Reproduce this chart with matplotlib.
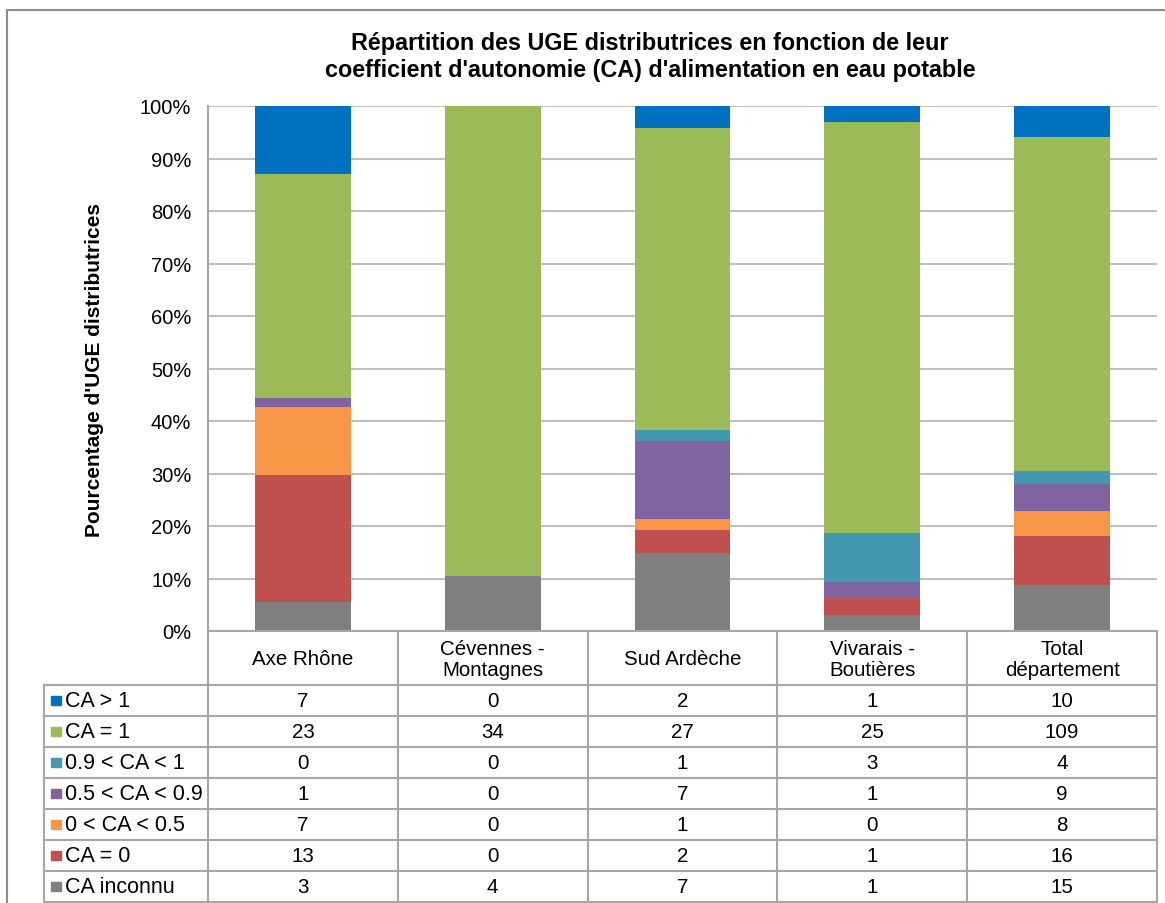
import numpy as np
import matplotlib.pyplot as plt
from matplotlib.patches import Rectangle

plt.rcParams['font.family'] = ['Liberation Sans', 'DejaVu Sans']

# Données
regions = ['Axe Rhône', 'Cévennes -\nMontagnes', 'Sud Ardèche', 'Vivarais -\nBoutières', 'Total\ndépartement']
classes = ['CA > 1', 'CA = 1', '0.9 < CA < 1', '0.5 < CA < 0.9', '0 < CA < 0.5', 'CA = 0', 'CA inconnu']
couleurs = ['#0070C0', '#9BBB59', '#4198AF', '#8064A2', '#F79646', '#C0504D', '#7F7F7F']

ca_sup1    = [7, 0, 2, 1, 10]
ca_egal1   = [23, 34, 27, 25, 109]
ca_09_1    = [0, 0, 1, 3, 4]
ca_05_09   = [1, 0, 7, 1, 9]
ca_0_05    = [7, 0, 1, 0, 8]
ca_egal0   = [13, 0, 2, 1, 16]
ca_inconnu = [3, 4, 7, 1, 15]

series = [ca_sup1, ca_egal1, ca_09_1, ca_05_09, ca_0_05, ca_egal0, ca_inconnu]
counts = np.array(series, dtype=float)
pct = counts / counts.sum(axis=0) * 100

W, H = 1165, 904
fig = plt.figure(figsize=(W / 100, H / 100), dpi=100)

# cadre extérieur
fig.patches.append(Rectangle((7 / W, 1 - 1200 / H), 2000 / W, (1200 - 11) / H,
                             transform=fig.transFigure, fill=False,
                             edgecolor='#8C8C8C', linewidth=1.5))

# ── Zone graphique ──
x0, x1, ytop, ybot = 208, 1157, 107, 632
ax = fig.add_axes([x0 / W, 1 - ybot / H, (x1 - x0) / W, (ybot - ytop) / H])
x = np.arange(len(regions))
bottom = np.zeros(len(regions))
# empilement du bas vers le haut : inconnu en bas, CA > 1 en haut
for i in range(len(classes) - 1, -1, -1):
    ax.bar(x, pct[i], width=0.505, bottom=bottom, color=couleurs[i], zorder=3)
    bottom += pct[i]

ax.set_xlim(-0.5, len(regions) - 0.5)
ax.set_ylim(0, 100)
ax.set_yticks(np.arange(0, 101, 10))
ax.set_yticklabels([f'{v}%' for v in range(0, 101, 10)], fontsize=14.5)
ax.tick_params(axis='y', length=0, pad=12)
ax.set_xticks([])
ax.grid(axis='y', color='#BFBFBF', linewidth=1.5, zorder=0)
for s in ['top', 'right', 'bottom']:
    ax.spines[s].set_visible(False)
ax.spines['left'].set_color('#A6A6A6')
ax.spines['left'].set_linewidth(1.5)

fig.text(95 / W, 1 - 370 / H, "Pourcentage d'UGE distributrices", rotation=90,
         ha='center', va='center', fontsize=15, fontweight='bold')
fig.text(650 / W, 1 - 57 / H,
         "Répartition des UGE distributrices en fonction de leur\n"
         "coefficient d'autonomie (CA) d'alimentation en eau potable",
         ha='center', va='center', fontsize=16.8, fontweight='bold', linespacing=1.2)

# ── Tableau de données ──
tleft, tbot = 44, 903
unit = (x1 - x0) / len(regions)
tax = fig.add_axes([tleft / W, 1 - tbot / H, (x1 - tleft) / W, (tbot - ybot) / H])
tax.set_xlim(-0.5 - (x0 - tleft) / unit, len(regions) - 0.5)
tax.set_ylim(tbot, ybot)
tax.axis('off')

head_h, row_h = 54, 31
lc = '#A6A6A6'
lw = 1.5
y_rows = ybot + head_h + row_h * np.arange(len(classes) + 1)
xl = -0.5 - (x0 - tleft) / unit

tax.plot([-0.5, len(regions) - 0.5], [ybot, ybot], color=lc, lw=lw, clip_on=False)
for yy in y_rows:
    tax.plot([xl, len(regions) - 0.5], [yy, yy], color=lc, lw=lw, clip_on=False)
for k in range(len(regions) + 1):
    tax.plot([k - 0.5, k - 0.5], [ybot, tbot], color=lc, lw=lw, clip_on=False)
tax.plot([xl, xl], [y_rows[0], tbot], color=lc, lw=lw, clip_on=False)

for j, r in enumerate(regions):
    tax.text(j, ybot + head_h / 2 + 1, r, ha='center', va='center', fontsize=14.8, linespacing=1.15)

for i, c in enumerate(classes):
    yc = y_rows[i] + row_h / 2
    tax.add_patch(Rectangle((xl + 7 / unit, yc - 4.5), 10 / unit, 9, color=couleurs[i], clip_on=False))
    tax.text(xl + 21 / unit, yc, c, ha='left', va='center', fontsize=15.5)
    for j in range(len(regions)):
        tax.text(j, yc, str(series[i][j]), ha='center', va='center', fontsize=14.8)

plt.savefig('out.png', dpi=100)
plt.close()
